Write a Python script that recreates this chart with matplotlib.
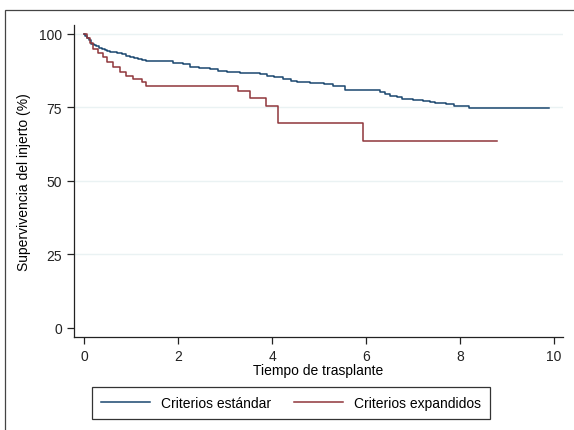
import matplotlib.pyplot as plt
from matplotlib.patches import Rectangle

plt.rcParams['font.family'] = ['Liberation Sans', 'DejaVu Sans']

# Kaplan-Meier estimates (time in years, survival in %)
t_std = [0, 0.03, 0.07, 0.1, 0.16, 0.21, 0.25, 0.32, 0.38, 0.45, 0.5, 0.56, 0.62, 0.7,
         0.8, 0.9, 0.98, 1.06, 1.15, 1.24, 1.33, 1.48, 1.62, 1.9, 2.11, 2.26, 2.45,
         2.68, 2.86, 3.05, 3.32, 3.74, 3.89, 4.05, 4.24, 4.4, 4.53, 4.81, 5.1, 5.3,
         5.55, 6.3, 6.4, 6.51, 6.65, 6.76, 7.0, 7.21, 7.35, 7.47, 7.7, 7.86, 8.18, 9.88]
s_std = [100, 99.3, 98.6, 98.0, 96.6, 96.2, 95.8, 95.3, 94.9, 94.6, 94.3, 94.0, 93.8, 93.4,
         93.0, 92.5, 92.1, 91.8, 91.5, 91.2, 90.9, 90.7, 90.6, 90.2, 89.8, 88.7, 88.4,
         88.1, 87.2, 87.0, 86.7, 86.4, 85.6, 85.2, 84.7, 84.1, 83.6, 83.2, 82.8, 82.2,
         80.9, 80.2, 79.6, 79.0, 78.4, 77.9, 77.5, 77.1, 76.8, 76.4, 76.0, 75.6, 74.8, 74.8]

t_exp = [0, 0.06, 0.12, 0.2, 0.3, 0.41, 0.5, 0.62, 0.77, 0.9, 1.05, 1.23, 1.33,
         3.28, 3.53, 3.87, 4.13, 5.93, 8.78]
s_exp = [100, 98.5, 96.8, 94.9, 93.5, 92.1, 90.4, 88.7, 87.0, 85.8, 84.7, 83.6, 82.4,
         80.5, 78.1, 75.5, 69.8, 63.5, 63.5]

xticks = [0, 2, 4, 6, 8, 10]
yticks = [0, 25, 50, 75, 100]

navy = '#1a476f'
maroon = '#90353b'

fig = plt.figure(figsize=(5.74, 4.31), dpi=100)
ax = fig.add_axes([0.129, 0.216, 0.852, 0.724])

for y in yticks[1:]:
    ax.axhline(y, color='#eaf2f3', lw=1, zorder=0)

ax.plot(t_std, s_std, drawstyle='steps-post', color=navy, lw=1.1, label='Criterios estándar')
ax.plot(t_exp, s_exp, drawstyle='steps-post', color=maroon, lw=1.1, label='Criterios expandidos')

ax.set_xlim(-0.21, 10.19)
ax.set_ylim(-3.06, 103.06)
ax.set_xticks(xticks)
ax.set_yticks(yticks)
ax.tick_params(direction='out', length=5, width=0.9, labelsize=10, colors='#222222')
for side in ['top', 'right']:
    ax.spines[side].set_visible(False)
for side in ['left', 'bottom']:
    ax.spines[side].set_linewidth(0.9)
    ax.spines[side].set_color('#222222')

ax.set_xlabel('Tiempo de trasplante', fontsize=10, labelpad=0)
ax.set_ylabel('Supervivencia del injerto (%)', fontsize=10, labelpad=6)

leg = fig.legend(loc='center', bbox_to_anchor=(0.507, 0.0626), ncol=2, fontsize=10,
                 frameon=True, fancybox=False, edgecolor='black', handlelength=3.5,
                 columnspacing=1.65, borderpad=0.65)
leg.get_frame().set_linewidth(0.9)

# outer graph frame (only top and left edges fall inside the image)
fig.patches.append(Rectangle((5 / 574, -0.5), 2, 1.5 - 11 / 431, transform=fig.transFigure,
                             fill=False, edgecolor='#444444', lw=0.9))

fig.savefig('out.png', dpi=100)
plt.close(fig)
